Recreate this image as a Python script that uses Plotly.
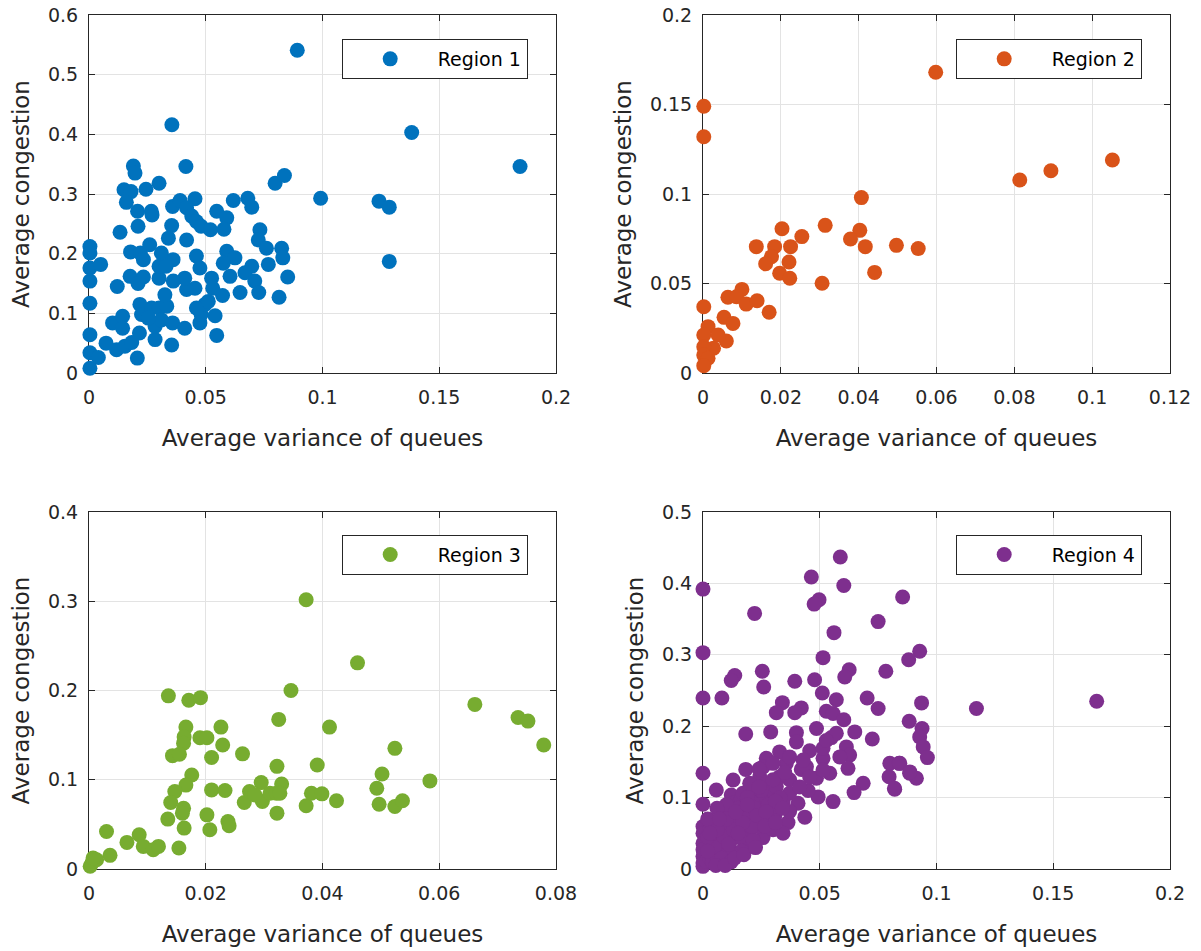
import plotly.graph_objects as go

# ---------------- data ----------------
region_names = ["Region 1", "Region 2", "Region 3", "Region 4"]
colors = ["#0072BD", "#D95319", "#77AC30", "#7E2F8E"]

r1_x = [0.0892, 0.0355, 0.0190, 0.0197, 0.0415, 0.0300, 0.0244, 0.0150, 0.0180, 0.0160,
        0.0208, 0.0270, 0.0267, 0.0358, 0.0390, 0.0454, 0.0418, 0.0440, 0.0460, 0.0480,
        0.0520, 0.0547, 0.0590, 0.0578, 0.0618, 0.0680, 0.0697, 0.0797, 0.0837, 0.0992,
        0.0133, 0.0210, 0.0354, 0.0260, 0.0340, 0.0418, 0.0178, 0.0220, 0.0233, 0.0310,
        0.0360, 0.0460, 0.0475, 0.0590, 0.0625, 0.0575, 0.0732, 0.0725, 0.0760, 0.0825,
        0.0830, 0.0768, 0.0697, 0.0668, 0.0710, 0.0851, 0.0727, 0.0814, 0.0647, 0.0572,
        0.0604, 0.0525, 0.0530, 0.0454, 0.0418, 0.0410, 0.0361, 0.0300, 0.0300, 0.0330,
        0.0176, 0.0233, 0.0210, 0.0121, 0.0004, 0.0004, 0.0004, 0.0050, 0.0004, 0.0004,
        0.0004, 0.0004, 0.0040, 0.0004, 0.0073, 0.0118, 0.0154, 0.0183, 0.0207, 0.0216,
        0.0101, 0.0144, 0.0144, 0.0218, 0.0225, 0.0268, 0.0300, 0.0333, 0.0325, 0.0283,
        0.0354, 0.0283, 0.0310, 0.0358, 0.0410, 0.0475, 0.0480, 0.0497, 0.0460, 0.0511,
        0.0540, 0.0547, 0.0254, 0.1382, 0.1242, 0.1286, 0.1286, 0.1846]
r1_y = [0.541, 0.416, 0.347, 0.335, 0.346, 0.318, 0.308, 0.307, 0.304, 0.286,
        0.271, 0.265, 0.271, 0.279, 0.289, 0.292, 0.277, 0.263, 0.254, 0.246,
        0.240, 0.271, 0.260, 0.241, 0.289, 0.293, 0.278, 0.318, 0.331, 0.293,
        0.236, 0.246, 0.247, 0.215, 0.226, 0.223, 0.203, 0.201, 0.190, 0.201,
        0.190, 0.196, 0.176, 0.204, 0.193, 0.184, 0.240, 0.223, 0.209, 0.209,
        0.193, 0.182, 0.179, 0.168, 0.154, 0.161, 0.135, 0.127, 0.135, 0.130,
        0.162, 0.159, 0.142, 0.142, 0.140, 0.159, 0.154, 0.159, 0.179, 0.179,
        0.162, 0.161, 0.150, 0.145, 0.212, 0.201, 0.176, 0.182, 0.154, 0.117,
        0.064, 0.034, 0.026, 0.008, 0.050, 0.039, 0.045, 0.051, 0.025, 0.067,
        0.084, 0.095, 0.075, 0.115, 0.098, 0.109, 0.109, 0.112, 0.131, 0.056,
        0.047, 0.078, 0.089, 0.084, 0.075, 0.084, 0.098, 0.115, 0.109, 0.120,
        0.096, 0.063, 0.092, 0.403, 0.288, 0.278, 0.187, 0.346]

r2_x = [0.0598, 0.0002, 0.0002, 0.0407, 0.0314, 0.0203, 0.0403, 0.0254, 0.0379, 0.0137,
        0.0184, 0.0225, 0.0417, 0.0497, 0.0553, 0.0176, 0.0161, 0.0221, 0.0197, 0.0223,
        0.0441, 0.0306, 0.0100, 0.0064, 0.0086, 0.0111, 0.0139, 0.0002, 0.0170, 0.0054,
        0.0077, 0.0013, 0.0002, 0.0060, 0.0027, 0.0002, 0.0002, 0.0013, 0.0002, 0.0039,
        0.0814, 0.0894, 0.1052]
r2_y = [0.168, 0.149, 0.132, 0.098, 0.0825, 0.0806, 0.0797, 0.0762, 0.0749, 0.0706,
        0.0706, 0.0706, 0.0706, 0.0713, 0.0695, 0.0650, 0.0610, 0.0620, 0.0557, 0.0529,
        0.0562, 0.0501, 0.0467, 0.0423, 0.0426, 0.0385, 0.0404, 0.0370, 0.0339, 0.0311,
        0.0277, 0.0259, 0.0212, 0.0179, 0.0138, 0.0147, 0.0100, 0.0082, 0.0041, 0.0212,
        0.1078, 0.1130, 0.1190]

r3_x = [0.0372, 0.0346, 0.0136, 0.0171, 0.0191, 0.0325, 0.0412, 0.0166, 0.0226, 0.0163,
        0.0190, 0.0202, 0.0229, 0.0162, 0.0143, 0.0155, 0.0210, 0.0263, 0.0322, 0.0391,
        0.0176, 0.0166, 0.0147, 0.0140, 0.0162, 0.0160, 0.0135, 0.0163, 0.0154, 0.0210,
        0.0233, 0.0202, 0.0207, 0.0238, 0.0240, 0.0266, 0.0275, 0.0295, 0.0297, 0.0310,
        0.0321, 0.0330, 0.0327, 0.0284, 0.0322, 0.0372, 0.0381, 0.0399, 0.0030, 0.0036,
        0.0065, 0.0086, 0.0093, 0.0110, 0.0119, 0.0005, 0.0002, 0.0013, 0.0007, 0.0460,
        0.0661, 0.0735, 0.0752, 0.0779, 0.0524, 0.0502, 0.0493, 0.0584, 0.0497, 0.0524,
        0.0537, 0.0424]
r3_y = [0.3017, 0.2000, 0.1940, 0.1890, 0.1920, 0.1676, 0.1590, 0.1590, 0.1590, 0.1480,
        0.1470, 0.1470, 0.1390, 0.1410, 0.1270, 0.1285, 0.1250, 0.1290, 0.1150, 0.1166,
        0.1054, 0.0940, 0.0868, 0.0745, 0.0680, 0.0626, 0.0559, 0.0458, 0.0235, 0.0886,
        0.0879, 0.0607, 0.0439, 0.0533, 0.0484, 0.0745, 0.0868, 0.0968, 0.0756, 0.0849,
        0.0849, 0.0953, 0.0849, 0.0830, 0.0626, 0.0708, 0.0849, 0.0842, 0.0420, 0.0153,
        0.0298, 0.0384, 0.0253, 0.0216, 0.0253, 0.0067, 0.0030, 0.0104, 0.0123, 0.2310,
        0.1844, 0.1698, 0.1657, 0.1390, 0.1352, 0.1065, 0.0905, 0.0987, 0.0726, 0.0700,
        0.0764, 0.0764]

r4_x = [0.0588, 0.0464, 0.0603, 0.0855, 0.0497, 0.0476, 0.0000, 0.0221, 0.0750, 0.0561,
        0.0928, 0.0881, 0.0000, 0.0514, 0.0254, 0.0626, 0.0607, 0.0783, 0.0136, 0.0121,
        0.0260, 0.0393, 0.0478, 0.0511, 0.0000, 0.0081, 0.0703, 0.0750, 0.0936, 0.0571,
        0.0340, 0.0314, 0.0421, 0.0393, 0.0528, 0.0557, 0.0603, 0.0883, 0.0938, 0.0928,
        0.0943, 0.0961, 0.0183, 0.0290, 0.0400, 0.0486, 0.0650, 0.0725, 0.0550, 0.0614,
        0.0628, 0.0400, 0.0800, 0.0840, 0.0885, 0.0914, 0.0797, 0.0821, 0.0686, 0.0647,
        0.0557, 0.0493, 0.0450, 0.0486, 0.0514, 0.0457, 0.0586, 0.0621, 0.0543, 0.0000,
        0.0000, 0.0057, 0.0129, 0.0183, 0.0271, 0.0328, 0.0357, 0.0421, 0.0371, 0.0243,
        0.0214, 0.0293, 0.0121, 0.0407, 0.0343, 0.0436, 0.0364, 0.0257, 0.0171, 0.0243,
        0.0186, 0.0093, 0.0143, 0.0050, 0.0100, 0.0029, 0.0000, 0.0000, 0.0000, 0.0000,
        0.0000, 0.0000, 0.0000, 0.0043, 0.0057, 0.0114, 0.0300, 0.0229, 0.0307, 0.0286,
        0.0328, 0.0271, 0.0443, 0.0514, 0.0571, 0.0528, 0.0029, 0.0071, 0.0157, 0.0200,
        0.0129, 0.0164, 0.0229, 0.0250, 0.0321, 0.0371, 0.0371, 0.0314, 0.0214, 0.0086,
        0.0029, 0.0014, 0.0071, 0.0129, 0.0200, 0.0343, 0.0271, 0.0200, 0.0171, 0.0257,
        0.0300, 0.0371, 0.0429, 0.0457, 0.0514, 0.0414, 0.1171, 0.1686, 0.0843, 0.0886,
        0.0820, 0.0040, 0.0080, 0.0060, 0.0120, 0.0150, 0.0180, 0.0220, 0.0250, 0.0280,
        0.0330, 0.0200, 0.0100, 0.0140, 0.0020, 0.0060, 0.0300, 0.0350, 0.0240, 0.0190,
        0.0090, 0.0030, 0.0070, 0.0110, 0.0160, 0.0210, 0.0260, 0.0310, 0.0050, 0.0090,
        0.0130, 0.0170, 0.0230, 0.0270, 0.0020, 0.0060, 0.0100, 0.0140, 0.0190, 0.0240,
        0.0040, 0.0080, 0.0120, 0.0165, 0.0215, 0.0030, 0.0070, 0.0110, 0.0150, 0.0020,
        0.0055, 0.0095, 0.0135, 0.0175, 0.0225, 0.0265, 0.0310, 0.0340]
r4_y = [0.4370, 0.4090, 0.3970, 0.3810, 0.3770, 0.3710, 0.3920, 0.3580, 0.3465, 0.3310,
        0.3050, 0.2930, 0.3030, 0.2960, 0.2770, 0.2790, 0.2690, 0.2770, 0.2710, 0.2640,
        0.2550, 0.2630, 0.2650, 0.2465, 0.2395, 0.2395, 0.2395, 0.2247, 0.2326, 0.2370,
        0.2330, 0.2190, 0.2256, 0.2190, 0.2210, 0.2177, 0.2090, 0.2070, 0.1967, 0.1850,
        0.1710, 0.1560, 0.1890, 0.1920, 0.1910, 0.1967, 0.1920, 0.1820, 0.1840, 0.1710,
        0.1595, 0.1780, 0.1480, 0.1480, 0.1340, 0.1270, 0.1293, 0.1116, 0.1200, 0.1070,
        0.0944, 0.1010, 0.1100, 0.1270, 0.1550, 0.1656, 0.1570, 0.1410, 0.1340, 0.1340,
        0.0907, 0.1107, 0.1247, 0.1395, 0.1550, 0.1640, 0.1480, 0.1395, 0.1250, 0.1290,
        0.1150, 0.1107, 0.1037, 0.0920, 0.0944, 0.0726, 0.0650, 0.0440, 0.0410, 0.0828,
        0.0780, 0.0805, 0.0688, 0.0665, 0.0549, 0.0456, 0.0595, 0.0500, 0.0360, 0.0270,
        0.0177, 0.0084, 0.0037, 0.0316, 0.0130, 0.0360, 0.0550, 0.0595, 0.0735, 0.1060,
        0.1290, 0.1200, 0.1433, 0.1690, 0.1900, 0.1800, 0.0549, 0.0500, 0.0500, 0.0549,
        0.0920, 0.0990, 0.1014, 0.0967, 0.0874, 0.0805, 0.1060, 0.1153, 0.0920, 0.0688,
        0.0223, 0.0107, 0.0270, 0.0223, 0.0316, 0.0500, 0.0688, 0.1107, 0.1060, 0.1430,
        0.1480, 0.1570, 0.1525, 0.1290, 0.1386, 0.1150, 0.2247, 0.2350, 0.1480, 0.1360,
        0.1130, 0.0400, 0.0350, 0.0600, 0.0600, 0.0850, 0.0700, 0.0850, 0.1100, 0.0900,
        0.1000, 0.1200, 0.0900, 0.0450, 0.0700, 0.0850, 0.1250, 0.1350, 0.1400, 0.1000,
        0.0250, 0.0150, 0.0200, 0.0300, 0.0450, 0.0600, 0.0750, 0.0950, 0.0300, 0.0450,
        0.0550, 0.0650, 0.0750, 0.0800, 0.0450, 0.0550, 0.0700, 0.0800, 0.0900, 0.1150,
        0.0100, 0.0150, 0.0100, 0.0250, 0.0400, 0.0500, 0.0700, 0.0350, 0.0500, 0.0250,
        0.0050, 0.0050, 0.0150, 0.0200, 0.0300, 0.0600, 0.0650, 0.0850]

xs = [r1_x, r2_x, r3_x, r4_x]
ys = [r1_y, r2_y, r3_y, r4_y]

x_ranges = [[0, 0.2], [0, 0.12], [0, 0.08], [0, 0.2]]
x_dticks = [0.05, 0.02, 0.02, 0.05]
y_ranges = [[0, 0.6], [0, 0.2], [0, 0.4], [0, 0.5]]
y_dticks = [0.1, 0.05, 0.1, 0.1]

x_title = "Average variance of queues"
y_title = "Average congestion"

# ---------------- layout geometry ----------------
W, H = 1201, 951
x_doms = [[89 / W, 556 / W], [703 / W, 1170 / W], [89 / W, 556 / W], [703 / W, 1170 / W]]
y_doms = [[1 - 373 / H, 1 - 15 / H], [1 - 373 / H, 1 - 15 / H],
          [1 - 869 / H, 1 - 512 / H], [1 - 869 / H, 1 - 512 / H]]
leg_pos = [(341.7 / W, 1 - 39 / H), (955.7 / W, 1 - 39 / H),
           (341.7 / W, 1 - 534.7 / H), (955.7 / W, 1 - 534.7 / H)]

FONT = "DejaVu Sans"
TXT = "#262626"

fig = go.Figure()
layout = dict(
    width=W, height=H,
    margin=dict(l=0, r=0, t=0, b=0, autoexpand=False),
    paper_bgcolor="white", plot_bgcolor="white",
    font=dict(family=FONT, size=19, color=TXT),
    showlegend=True,
)

for i in range(4):
    n = "" if i == 0 else str(i + 1)
    leg = "legend" + n
    fig.add_trace(go.Scatter(
        x=xs[i], y=ys[i], mode="markers", name=region_names[i],
        marker=dict(color=colors[i], size=15, line=dict(width=0)),
        cliponaxis=False,
        xaxis="x" + n, yaxis="y" + n, legend=leg,
    ))
    axis_common = dict(
        showline=True, linecolor=TXT, linewidth=1, mirror="ticks",
        ticks="inside", ticklen=6, tickcolor=TXT, tickwidth=1,
        showgrid=True, gridcolor="#e3e3e3", gridwidth=1,
        zeroline=False, layer="below traces", automargin=False,
        tickfont=dict(family=FONT, size=19, color=TXT),
    )
    layout["xaxis" + n] = dict(
        axis_common, domain=x_doms[i], range=x_ranges[i], dtick=x_dticks[i], tick0=0,
        anchor="y" + n, ticklabelstandoff=7,
        title=dict(text=x_title, font=dict(family=FONT, size=23, color=TXT), standoff=23),
    )
    layout["yaxis" + n] = dict(
        axis_common, domain=y_doms[i], range=y_ranges[i], dtick=y_dticks[i], tick0=0,
        anchor="x" + n, ticklabelstandoff=6,
        title=dict(text=y_title, font=dict(family=FONT, size=23, color=TXT), standoff=11),
    )
    layout[leg] = dict(
        x=leg_pos[i][0], y=leg_pos[i][1], xanchor="left", yanchor="top",
        bgcolor="white", bordercolor=TXT, borderwidth=1,
        font=dict(family=FONT, size=19, color="#000000"),
        itemwidth=85,
    )

fig.update_layout(**layout)
fig.write_html(
    "out.html",
    config={"displayModeBar": False},
    post_script="document.body.style.margin='0';document.body.style.overflow='hidden';",
)
